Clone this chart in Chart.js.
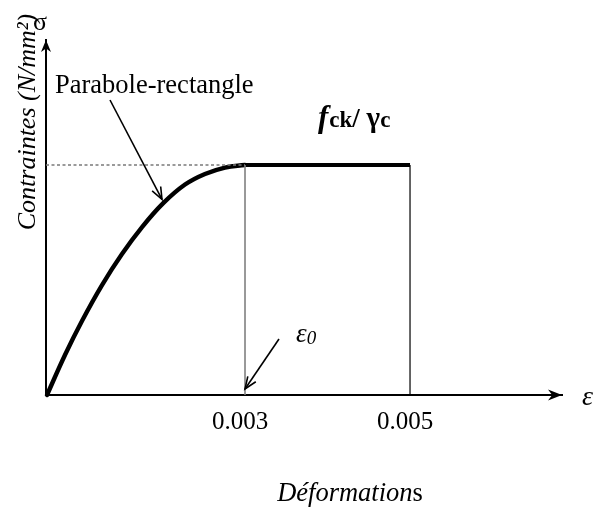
<!DOCTYPE html>
<html>
<head>
<meta charset="utf-8">
<script src="https://cdn.jsdelivr.net/npm/chart.js@4.4.1/dist/chart.umd.min.js"></script>
<style>
  html, body { margin: 0; padding: 0; background: #ffffff; }
  #wrap { width: 605px; height: 507px; position: relative; }
</style>
</head>
<body>
<div id="wrap"><canvas id="c" width="605" height="507"></canvas></div>
<script>
// ---- data (strain ε, stress σ relative to f_ck/γ_c) ----
const strainTicks = [0.003, 0.005];
const tickLabels = ['0.003', '0.005'];
const parabolaStrain = [0.000600, 0.000818, 0.001024, 0.001267, 0.001509, 0.001752, 0.002006, 0.002273, 0.002515, 0.002758, 0.003000];
const parabolaStress = [0.000, 0.174, 0.322, 0.478, 0.613, 0.730, 0.833, 0.915, 0.961, 0.989, 1.000];
const rectangleStrain = [0.003, 0.005];
const rectangleStress = [1.0, 1.0];
const axisStrainRange = [0.000588, 0.006842];
const axisStressRange = [0, 1.5435];

const toPts = (xs, ys) => xs.map((x, i) => ({ x: x, y: ys[i] }));
const SERIF = "'Liberation Serif', 'Times New Roman', serif";

const dotted = toPts([axisStrainRange[0], rectangleStrain[0]], [rectangleStress[0], rectangleStress[0]]);
const vLine1 = toPts([strainTicks[0], strainTicks[0]], [0, rectangleStress[0]]);
const vLine2 = toPts([strainTicks[1], strainTicks[1]], [0, rectangleStress[1]]);

function stealthArrow(ctx, tipX, tipY, angle, len, half) {
  ctx.save();
  ctx.translate(tipX, tipY);
  ctx.rotate(angle);
  ctx.beginPath();
  ctx.moveTo(0, 0);
  ctx.lineTo(-len, -half);
  ctx.lineTo(-len * 0.7, 0);
  ctx.lineTo(-len, half);
  ctx.closePath();
  ctx.fillStyle = '#000';
  ctx.fill();
  ctx.restore();
}
function openArrow(ctx, x0, y0, x1, y1) {
  const a = Math.atan2(y1 - y0, x1 - x0);
  ctx.save();
  ctx.strokeStyle = '#000';
  ctx.lineWidth = 1.6;
  ctx.beginPath();
  ctx.moveTo(x0, y0);
  ctx.lineTo(x1, y1);
  ctx.stroke();
  const L = 13, w = 0.38;
  ctx.beginPath();
  ctx.moveTo(x1 - L * Math.cos(a - w), y1 - L * Math.sin(a - w));
  ctx.lineTo(x1, y1);
  ctx.lineTo(x1 - L * Math.cos(a + w), y1 - L * Math.sin(a + w));
  ctx.stroke();
  ctx.restore();
}

const annotations = {
  id: 'annotations',
  afterDraw(chart) {
    const ctx = chart.ctx;
    const xs = chart.scales.x, ys = chart.scales.y;
    const ca = chart.chartArea;
    ctx.save();
    // axis arrowheads
    stealthArrow(ctx, ca.right, ca.bottom, 0, 14, 5.5);
    stealthArrow(ctx, ca.left, ca.top, -Math.PI / 2, 12, 5);
    ctx.fillStyle = '#000';
    ctx.textAlign = 'left';
    ctx.textBaseline = 'alphabetic';
    // sigma
    ctx.font = '26px ' + SERIF;
    ctx.textAlign = 'center';
    ctx.fillText('σ', ca.left - 6, ca.top - 10);
    // epsilon on x axis
    ctx.font = 'italic 28px ' + SERIF;
    ctx.textAlign = 'left';
    ctx.fillText('ε', ca.right + 20, ca.bottom + 10);
    // y title
    ctx.save();
    ctx.translate(35, 122);
    ctx.rotate(-Math.PI / 2);
    ctx.textAlign = 'center';
    ctx.font = 'italic 26px ' + SERIF;
    ctx.fillText('Contraintes (N/mm²)', 0, 0);
    ctx.restore();
    // x title: "Déformation" italic + "s" regular
    ctx.font = 'italic 26.5px ' + SERIF;
    const t1 = 'Déformation';
    const w1 = ctx.measureText(t1).width;
    ctx.font = '26.5px ' + SERIF;
    const w2 = ctx.measureText('s').width;
    const startX = 350 - (w1 + w2) / 2;
    ctx.font = 'italic 26.5px ' + SERIF;
    ctx.fillText(t1, startX, 501);
    ctx.font = '26.5px ' + SERIF;
    ctx.fillText('s', startX + w1, 501);
    // Parabole-rectangle label + arrow
    ctx.font = '26.5px ' + SERIF;
    ctx.fillText('Parabole-rectangle', 55, 93);
    const tipX = xs.getPixelForValue(parabolaStrain[6]);
    const tipY = ys.getPixelForValue(parabolaStress[6]);
    openArrow(ctx, 110, 100, tipX - 1, tipY - 4);
    // fck / γc
    let x = 318;
    const base = 127;
    ctx.font = 'bold italic 31px ' + SERIF;
    ctx.fillText('f', x, base);
    x += ctx.measureText('f').width + 1;
    ctx.font = 'bold 23px ' + SERIF;
    ctx.fillText('ck', x, base);
    x += ctx.measureText('ck').width;
    ctx.font = 'bold 27px ' + SERIF;
    ctx.fillText('/', x, base);
    x += ctx.measureText('/ ').width;
    ctx.font = 'bold 29px ' + SERIF;
    ctx.fillText('γ', x, base);
    x += ctx.measureText('γ').width;
    ctx.font = 'bold 23px ' + SERIF;
    ctx.fillText('c', x, base);
    // epsilon_0 + arrow
    ctx.font = 'italic 27px ' + SERIF;
    ctx.fillText('ε', 296, 342);
    const we = ctx.measureText('ε').width;
    ctx.font = 'italic 19px ' + SERIF;
    ctx.fillText('0', 296 + we, 344);
    const e0x = xs.getPixelForValue(strainTicks[0]);
    const e0y = ys.getPixelForValue(0.026);
    openArrow(ctx, 279, 339, e0x, e0y);
    ctx.restore();
  }
};

new Chart(document.getElementById('c'), {
  type: 'scatter',
  data: {
    datasets: [
      { data: dotted, showLine: true, borderColor: '#7a7a7a', borderWidth: 1.5, borderDash: [3, 2.5], pointRadius: 0, clip: false },
      { data: vLine1, showLine: true, borderColor: '#808080', borderWidth: 1.6, pointRadius: 0, clip: false },
      { data: vLine2, showLine: true, borderColor: '#000000', borderWidth: 1.2, pointRadius: 0, clip: false },
      { data: toPts(parabolaStrain, parabolaStress), showLine: true, borderColor: '#000000', borderWidth: 4.4,
        tension: 0.4, pointRadius: 0, clip: false, borderCapStyle: 'round' },
      { data: toPts(rectangleStrain, rectangleStress), showLine: true, borderColor: '#000000', borderWidth: 3.8, pointRadius: 0, clip: false }
    ]
  },
  options: {
    responsive: false,
    animation: false,
    devicePixelRatio: 1,
    layout: { padding: { left: 46, right: 43, top: 40, bottom: 58 } },
    plugins: { legend: { display: false }, tooltip: { enabled: false } },
    scales: {
      x: {
        type: 'linear',
        min: axisStrainRange[0], max: axisStrainRange[1],
        grid: { display: false, drawTicks: false },
        border: { display: true, color: '#000', width: 2 },
        afterBuildTicks(scale) { scale.ticks = strainTicks.map(v => ({ value: v })); },
        ticks: {
          padding: 12, color: '#000', maxRotation: 0, autoSkip: false, labelOffset: -5,
          font: { family: SERIF, size: 25 },
          callback(value) { const i = strainTicks.indexOf(value); return i >= 0 ? tickLabels[i] : ''; }
        }
      },
      y: {
        type: 'linear',
        min: axisStressRange[0], max: axisStressRange[1],
        grid: { display: false, drawTicks: false },
        border: { display: true, color: '#000', width: 2 },
        ticks: { display: false }
      }
    }
  },
  plugins: [annotations]
});
</script>
</body>
</html>
